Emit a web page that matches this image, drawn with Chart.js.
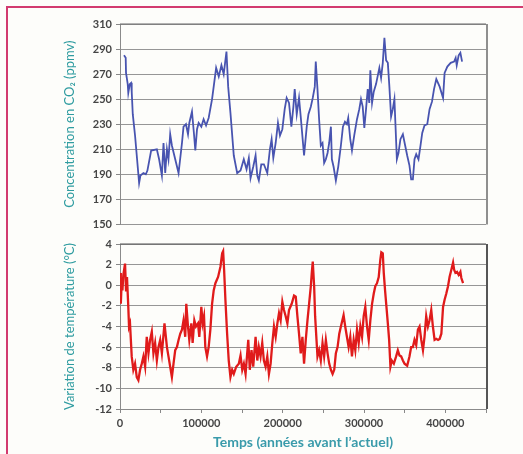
<!DOCTYPE html>
<html><head><meta charset="utf-8">
<script src="https://cdn.jsdelivr.net/npm/chart.js@4/dist/chart.umd.min.js"></script>
<style>
html,body{margin:0;padding:0;background:#fdfdfa;}
#wrap{position:relative;width:523px;height:454px;overflow:hidden;background:#fdfdfa;}
#frameTop{position:absolute;left:6px;top:6px;width:517px;height:2px;background:#d23a6f;}
#frameLeft{position:absolute;left:6px;top:6px;width:2px;height:448px;background:#d23a6f;}
canvas{position:absolute;left:0;}
#c1{top:0;}
#c2{top:230px;}
</style></head>
<body><div id="wrap"><div id="frameTop"></div><div id="frameLeft"></div>
<canvas id="c1" width="523" height="235" style="width:523px;height:235px"></canvas>
<canvas id="c2" width="523" height="224" style="width:523px;height:224px"></canvas>
</div>
<script>
// ---- data (years before present) ----
const co2Years = [4900,7000,7400,9500,10200,12000,13600,14400,15700,18500,
21000,23500,25100,28800,31700,33700,38300,45300,48100,51500,
53500,55600,57700,59600,61700,63800,72000,76200,78100,81100,
83600,85200,88500,91000,92600,94700,96700,100000,102800,105800,
109000,113200,116400,118200,121400,124700,127500,130900,133000,135800,
139900,144100,148200,152200,155600,158400,160500,163800,166700,168800,
170700,173700,176900,181100,184300,186400,188500,191400,194200,196700,
199600,202500,204900,207800,210700,213200,214800,217300,220100,222200,
226300,229600,231700,234600,237000,239500,240700,242800,244800,246900,
249000,251000,253100,255200,257200,259300,260500,262600,265400,268300,
271600,274100,276600,279000,280600,283100,285200,288000,291400,294200,
296300,298400,300400,302500,304600,306500,307800,309900,312000,314800,
318900,321000,323100,325100,327200,329300,331200,333300,335400,337400,
338600,340400,342400,344800,347800,350600,353100,355900,358000,360100,
362100,364200,367000,369500,371600,374400,377800,380600,383600,386100,
388900,393000,397200,399100,402500,406600,410800,412700,414000,416400,
418500,420600];
const co2Values = [285,283,271,262,255,262,263,256,238,221,
202,183,189,191,190,193,209,210,202,189,
215,191,210,202,222,213,191,215,228,230,
222,231,240,222,209,226,231,228,234,229,
235,250,266,275,268,277,270,288,260,239,
205,191,193,202,194,203,187,196,205,189,
185,198,198,191,210,218,203,215,231,221,
226,242,251,247,228,244,258,238,251,236,
205,228,238,244,251,260,280,258,234,213,
215,199,202,207,215,228,202,196,185,196,
213,228,232,230,235,218,209,221,234,242,
250,244,227,242,258,247,273,247,256,262,
275,267,279,299,281,279,260,236,242,250,
231,202,207,218,222,213,205,197,186,186,
202,206,202,213,223,229,230,242,248,258,
266,260,251,271,276,279,280,283,277,285,
287,280];

const tempYears = [0,1000,2000,3000,4100,6200,7400,8600,10200,11100,
12300,14400,16400,18500,20600,22600,24700,26800,28800,30900,
32900,35000,37000,39100,41100,43200,45300,47300,49400,51500,
54700,57700,59600,61700,63800,65800,67900,70000,72000,74100,
76200,78100,80200,81500,83600,85200,87700,89300,91400,93400,
95900,97500,100000,101600,103300,104900,107000,109000,111100,113200,
115200,117300,120600,123500,125600,126800,128000,129600,131700,133700,
135800,137900,139900,142900,146100,148200,150300,152300,154400,157700,
159600,161700,163800,166700,168800,170700,172800,174900,176900,179000,
181100,183100,185200,187300,189300,191400,193500,195500,197500,199600,
201600,203700,205800,207800,211100,214000,216100,218100,220100,222200,
224300,226300,228400,230500,232500,234600,235800,237000,238700,239900,
241600,242800,244800,246900,249000,251000,253100,255200,257200,259300,
261400,263400,265400,267500,269600,271600,274900,276900,279000,281100,
283100,285200,287300,289300,291400,293500,295500,297600,299600,301600,
303700,305800,307800,309900,312000,313900,316000,318100,320100,321300,
323100,324300,325900,327600,329300,330900,332500,334200,336700,339500,
341600,343600,345700,347800,349800,353100,355900,358000,360100,362100,
364200,366300,368300,370400,372500,374400,376500,378600,380600,382700,
384700,386800,388900,391000,393000,395100,397200,399100,401200,403300,
405200,407400,409500,410800,412400,414400,416400,418500,419700,421800];
const tempValues = [1.2,-1.8,0.2,-0.5,1.0,2.1,-0.5,0.8,-2.1,-4.0,
-3.7,-6.9,-8.2,-7.6,-8.9,-9.2,-8.2,-7.6,-6.9,-7.9,
-5.0,-6.6,-5.3,-4.5,-6.6,-5.6,-7.3,-6.0,-5.3,-6.6,
-3.7,-6.0,-6.9,-7.9,-8.9,-7.6,-6.3,-6.0,-5.3,-4.7,
-4.3,-3.4,-5.0,-1.8,-4.0,-5.3,-3.7,-5.6,-3.4,-4.0,
-3.7,-5.0,-2.1,-3.7,-3.0,-6.0,-6.9,-6.0,-4.3,-1.8,
-0.5,0.2,0.8,1.8,3.1,3.3,1.5,-1.4,-4.7,-7.3,
-8.9,-8.2,-8.6,-7.9,-7.6,-6.8,-8.2,-7.6,-8.6,-5.3,
-8.2,-6.3,-7.9,-5.0,-7.3,-6.0,-6.9,-5.6,-7.3,-7.9,
-6.9,-8.6,-7.6,-5.6,-4.0,-5.0,-3.7,-2.7,-3.4,-1.6,
-2.4,-3.0,-3.7,-2.4,-1.8,-1.0,-1.1,-3.0,-4.7,-6.6,
-5.0,-7.6,-5.3,-3.4,-1.8,-0.1,1.2,2.3,-0.1,-3.0,
-5.3,-6.9,-6.3,-7.3,-5.6,-6.9,-5.3,-6.6,-7.6,-8.2,
-8.6,-8.2,-6.6,-6.0,-4.7,-4.0,-2.9,-4.0,-5.0,-6.0,
-5.0,-6.9,-5.3,-6.3,-4.3,-5.6,-4.0,-5.0,-3.0,-2.1,
-4.0,-5.3,-3.4,-1.8,-0.8,-0.1,0.2,0.8,2.5,3.2,
3.1,1.2,-0.5,-2.1,-3.7,-5.3,-7.9,-7.3,-7.6,-6.9,
-6.3,-6.8,-6.9,-7.3,-7.6,-7.8,-6.9,-6.0,-6.0,-5.3,
-5.8,-4.3,-4.0,-5.3,-6.3,-5.0,-3.0,-4.0,-3.4,-2.4,
-4.0,-5.3,-5.2,-5.3,-5.2,-4.7,-2.1,-1.4,-0.8,-0.1,
0.8,1.5,2.2,1.5,1.2,1.3,1.0,1.3,0.7,0.2];

const co2Axis = {min:150, max:310, step:20};
const tempAxis = {min:-12, max:4, step:2};
const timeAxis = {min:0, max:450000, step:50000, labelStep:100000};
const co2Title = 'Concentration en CO\u2082 (ppmv)';
const tempTitle = 'Variation de température (°C)';
const timeTitle = 'Temps (années avant l\u2019actuel)';

// ---- styling ----
const FONT = 'Lato, "Open Sans", sans-serif';
const TEAL = '#2f9ca0';
const GRID = '#969696';
const TICKC = '#454545';

const frame = {
  id:'frame',
  afterDraw(chart, args, opts){
    const a = chart.chartArea, ctx = chart.ctx;
    ctx.save();
    ctx.strokeStyle = opts.color || '#666';
    ctx.lineWidth = 1.2;
    ctx.beginPath();
    ctx.moveTo(a.left, a.top); ctx.lineTo(a.right, a.top);
    ctx.stroke();
    ctx.lineWidth = opts.rightWidth || 1.5;
    ctx.beginPath();
    ctx.moveTo(a.right+1, a.top); ctx.lineTo(a.right+1, a.bottom);
    ctx.stroke();
    ctx.restore();
  }
};

function pts(xs, ys){ return xs.map((x,i)=>({x:x, y:ys[i]})); }

function yScale(ax, title){
  return {
    min:ax.min, max:ax.max,
    afterFit(s){ s.width = 58; },
    ticks:{stepSize:ax.step, color:TICKC, padding:4, font:{family:FONT, size:11, weight:'bold'}},
    grid:{color:GRID, lineWidth:1, tickLength:4, tickColor:'#888'},
    border:{color:'#8a8a8a', width:1},
    title:{display:true, text:title, color:TEAL, padding:{top:0,bottom:0}, font:{family:FONT, size:13}}
  };
}

Chart.defaults.font.family = FONT;

new Chart(document.getElementById('c1'), {
  type:'line',
  data:{datasets:[{data:pts(co2Years, co2Values), borderColor:'#4854b0', borderWidth:1.8, pointRadius:0, tension:0, fill:false}]},
  options:{
    responsive:false, animation:false, devicePixelRatio:1,
    layout:{padding:{left:62, top:24, right:37, bottom:10}},
    plugins:{legend:{display:false}, tooltip:{enabled:false}, frame:{color:'#6a6a6a', rightWidth:1.5}},
    scales:{
      x:{type:'linear', min:timeAxis.min, max:timeAxis.max, display:false},
      y:yScale(co2Axis, co2Title)
    }
  },
  plugins:[frame]
});

new Chart(document.getElementById('c2'), {
  type:'line',
  data:{datasets:[{data:pts(tempYears, tempValues), borderColor:'#e01b1b', borderWidth:2.3, pointRadius:0, tension:0, fill:false}]},
  options:{
    responsive:false, animation:false, devicePixelRatio:1,
    layout:{padding:{left:62, top:14, right:37, bottom:0}},
    plugins:{legend:{display:false}, tooltip:{enabled:false}, frame:{color:'#555', rightWidth:2}},
    scales:{
      x:{type:'linear', min:timeAxis.min, max:timeAxis.max,
        afterFit(s){ s.height = 45; },
        afterBuildTicks(s){ const t=[]; for(let v=timeAxis.min; v<=timeAxis.max; v+=timeAxis.step) t.push({value:v}); s.ticks=t; },
        ticks:{autoSkip:false, maxRotation:0, color:TICKC, padding:4,
          font:{family:FONT, size:11, weight:'bold'},
          callback:(v)=> (v % timeAxis.labelStep === 0 && v < timeAxis.max) ? String(v) : ''},
        grid:{drawOnChartArea:false, tickLength:4, tickColor:'#888'},
        border:{color:'#8a8a8a', width:1},
        title:{display:true, text:timeTitle, color:'#3a9bab', padding:{top:0,bottom:3}, font:{family:FONT, size:14, weight:'bold'}}
      },
      y:yScale(tempAxis, tempTitle)
    }
  },
  plugins:[frame]
});
</script>
</body></html>
